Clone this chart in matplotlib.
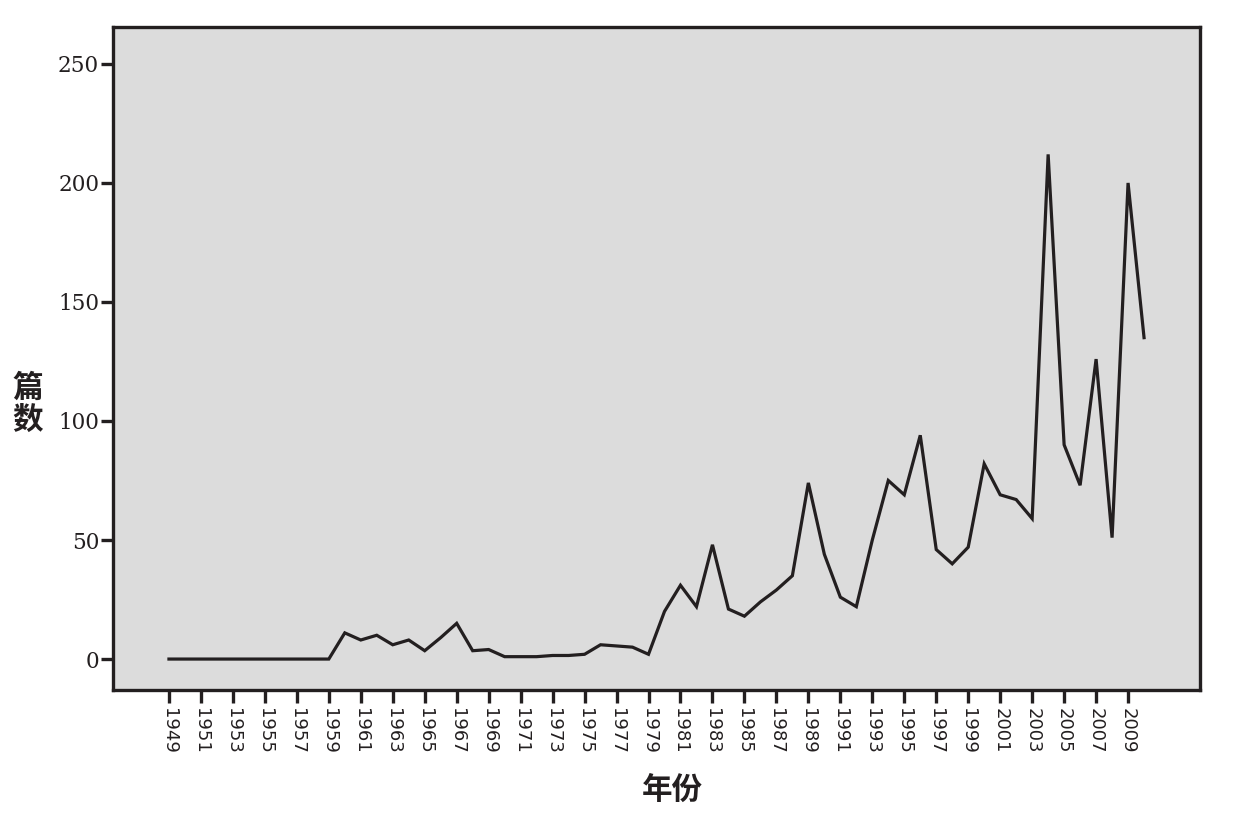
import matplotlib
matplotlib.use("Agg")
import matplotlib.pyplot as plt

years = list(range(1949, 2011))
counts = [0, 0, 0, 0, 0, 0, 0, 0, 0, 0, 0,      # 1949-1959
          11, 8, 10, 6, 8, 3.5, 9, 15, 3.5, 4,   # 1960-1969
          1, 1, 1, 1.5, 1.5, 2, 6, 5.5, 5, 2,    # 1970-1979
          20, 31, 22, 48, 21, 18, 24, 29, 35, 74,  # 1980-1989
          44, 26, 22, 50, 75, 69, 94, 46, 40, 47,  # 1990-1999
          82, 69, 67, 59, 212, 90, 73, 126, 51, 200,  # 2000-2009
          135]                                    # 2010
tick_years = list(range(1949, 2010, 2))
y_ticks = [0, 50, 100, 150, 200, 250]
x_label = "年份"
y_label = "篇\n数"

ink = "#231F20"
fig = plt.figure(figsize=(12.44, 8.25), dpi=100)
ax = fig.add_axes([113/1244, 1-690/825, (1200-113)/1244, (690-27)/825])
ax.set_facecolor("#DCDCDC")
ax.plot(years, counts, color=ink, linewidth=2.3, solid_joinstyle="miter")
ax.set_xlim(1945.5, 2013.5)
ax.set_ylim(-13, 265.5)

for s in ax.spines.values():
    s.set_linewidth(2.4)
    s.set_color(ink)

ax.set_xticks(tick_years)
ax.set_xticklabels([str(y) for y in tick_years], rotation=-90,
                   family="DejaVu Sans", fontsize=13, color=ink)
ax.set_yticks(y_ticks)
ax.set_yticklabels([str(v) for v in y_ticks], family="DejaVu Serif",
                   fontsize=15.5, color=ink)
ax.tick_params(axis="both", direction="out", length=9, width=2.4, color=ink)
ax.tick_params(axis="x", pad=4)
ax.tick_params(axis="y", pad=1)

fig.text(672/1244, 1-790/825, x_label, ha="center", va="center",
         family=["Noto Sans CJK SC", "DejaVu Sans"], fontsize=22, weight="bold", color=ink)
fig.text(28/1244, 1-404/825, y_label, ha="center", va="center", linespacing=1.0,
         family=["Noto Sans CJK SC", "DejaVu Sans"], fontsize=22, weight="bold", color=ink)

fig.savefig("out.png", dpi=100, facecolor="white")
